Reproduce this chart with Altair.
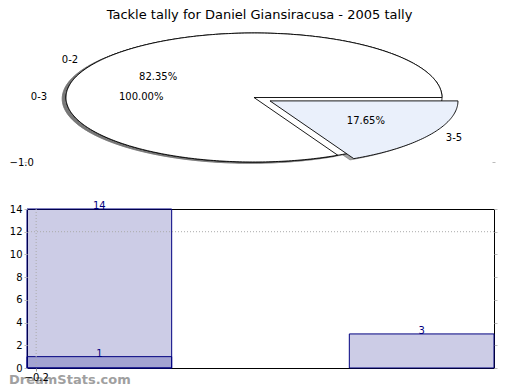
import altair as alt
import numpy as np
import pandas as pd

TITLE = "Tackle tally for Daniel Giansiracusa - 2005 tally"

# ---- pie data (two pies drawn on the same axes) ----
pieA_labels = ["0-2", "3-5"]
pieA_counts = [14, 3]
pieA_explode = [0.0, 0.1]
pieA_colors = ["#ffffff", "#eaf0fb"]

pieB_labels = ["0-3"]
pieB_counts = [1]
pieB_explode = [0.0]
pieB_colors = ["#ffffff"]

pie_yticks = [-1.0]

# ---- bar data ----
bar_values = [14, 1, 3]
bar_left = [-0.25, -0.25, 1.51]
bar_right = [0.54, 0.54, 2.30]
bar_yticks = [0, 2, 4, 6, 8, 10, 12, 14]
bar_xticks = [-0.2]
grid_y = [12]
grid_x = [-0.2]
WATERMARK = "DreamStats.com"


def pie_geometry(pid, labels, counts, explode, colors):
    total = float(sum(counts))
    start = 0.0
    shapes, texts = [], []
    for i, (lab, c, e, col) in enumerate(zip(labels, counts, explode, colors)):
        frac = c / total
        t1, t2 = 360.0 * start, 360.0 * (start + frac)
        mid = np.deg2rad((t1 + t2) / 2.0)
        cx, cy = e * np.cos(mid), e * np.sin(mid)
        ang = np.deg2rad(np.linspace(t1, t2, int(abs(t2 - t1)) + 2))
        xs = list(cx + np.cos(ang))
        ys = list(cy + np.sin(ang))
        if frac < 1.0:
            xs = [cx] + xs + [cx]
            ys = [cy] + ys + [cy]
        sid = f"{pid}{i}"
        for k, (x, y) in enumerate(zip(xs, ys)):
            shapes.append({"sid": sid, "k": k, "x": x, "y": y, "fill": col})
        lx, ly = cx + 1.1 * np.cos(mid), cy + 1.1 * np.sin(mid)
        texts.append({"x": lx, "y": ly, "t": lab, "ha": "left" if lx > 0 else "right"})
        px, py = cx + 0.6 * np.cos(mid), cy + 0.6 * np.sin(mid)
        texts.append({"x": px, "y": py, "t": f"{100 * frac:.2f}%", "ha": "center"})
        start += frac
    return shapes, texts


sB, tB = pie_geometry("1B", pieB_labels, pieB_counts, pieB_explode, pieB_colors)
sA, tA = pie_geometry("2A", pieA_labels, pieA_counts, pieA_explode, pieA_colors)
wedges = pd.DataFrame(sB + sA)
shadow = wedges.copy()
shadow["x"] = shadow["x"] - 0.02
shadow["y"] = shadow["y"] - 0.02
pie_text = pd.DataFrame(tB + tA)

FONT = "DejaVu Sans"
W_TOP, H_TOP = 465, 143
W_BOT, H_BOT = 467, 159

xs_top = alt.Scale(domain=[-1.2074, 1.266], nice=False, zero=False)
ys_top = alt.Scale(domain=[-1.093, 1.124], nice=False, zero=False)

shadow_layer = alt.Chart(shadow).mark_line(
    fill="#4c4c4c", fillOpacity=0.5, stroke="#7a7a7a", strokeWidth=1, strokeOpacity=0.6
).encode(
    x=alt.X("x:Q", scale=xs_top, axis=None),
    y=alt.Y("y:Q", scale=ys_top, axis=alt.Axis(
        values=pie_yticks, format=".1f", orient="left", domain=False, grid=False,
        ticks=True, tickColor="#bbbbbb", tickSize=3, tickWidth=1,
        labelAlign="left", labelPadding=15, labelFontSize=10, labelColor="black",
        labelFont=FONT, title=None)),
    detail="sid:N",
    order="k:Q",
)

wedge_layer = alt.Chart(wedges).mark_line(stroke="black", strokeWidth=0.9).encode(
    x=alt.X("x:Q", scale=xs_top, axis=None),
    y=alt.Y("y:Q", scale=ys_top, axis=alt.Axis(
        values=pie_yticks, orient="right", domain=False, grid=False, labels=False,
        ticks=True, tickColor="#bbbbbb", tickSize=3, tickWidth=1, title=None)),
    fill=alt.Fill("fill:N", scale=None),
    detail="sid:N",
    order="k:Q",
)


def pie_text_layer(ha):
    return alt.Chart(pie_text).transform_filter(
        alt.datum.ha == ha
    ).mark_text(align=ha, baseline="middle", fontSize=10, font=FONT, color="black").encode(
        x=alt.X("x:Q", scale=xs_top, axis=None),
        y=alt.Y("y:Q", scale=ys_top, axis=None),
        text="t:N",
    )


top = alt.layer(
    shadow_layer, wedge_layer,
    pie_text_layer("left"), pie_text_layer("right"), pie_text_layer("center"),
).resolve_axis(y="independent").properties(
    width=W_TOP, height=H_TOP,
    title=alt.Title(TITLE, fontSize=13, fontWeight="normal", font=FONT, anchor="middle", offset=3, color="black"),
    view=alt.ViewBackground(stroke="transparent"),
)

# ---- bottom bar chart ----
bar_df = pd.DataFrame({
    "v": bar_values, "x0": bar_left, "x1": bar_right,
})
bar_df["xc"] = (bar_df["x0"] + bar_df["x1"]) / 2
bar_df["lab"] = bar_df["v"].astype(str)
bar_df["base"] = 0

xs_bot = alt.Scale(domain=[-0.25, 2.30], nice=False, zero=False)
ys_bot = alt.Scale(domain=[0, 14], nice=False, zero=False)

bars = alt.Chart(bar_df).mark_bar(
    fill="navy", fillOpacity=0.2, stroke="navy", strokeWidth=1
).encode(
    x=alt.X("x0:Q", scale=xs_bot, axis=alt.Axis(
        values=bar_xticks, format=".1f", domain=False, grid=False, tickColor="#999999",
        tickSize=3, labelFontSize=10, labelColor="black", labelFont=FONT, labelPadding=1,
        title=None, zindex=2)),
    x2="x1:Q",
    y=alt.Y("v:Q", scale=ys_bot, axis=alt.Axis(
        values=bar_yticks, format="d", domain=False, grid=False, tickColor="#bbbbbb",
        tickSize=3, labelFontSize=10, labelColor="black", labelFont=FONT, labelPadding=2,
        title=None, zindex=2)),
    y2="base:Q",
)

gridh = alt.Chart(pd.DataFrame({"g": grid_y})).mark_rule(
    color="#aaaaaa", strokeDash=[1, 2], strokeWidth=1
).encode(y=alt.Y("g:Q", scale=ys_bot, axis=None))
gridv = alt.Chart(pd.DataFrame({"g": grid_x})).mark_rule(
    color="#aaaaaa", strokeDash=[1, 2], strokeWidth=1
).encode(x=alt.X("g:Q", scale=xs_bot, axis=None))

bar_labels = alt.Chart(bar_df).mark_text(
    color="navy", fontSize=10, font=FONT, baseline="alphabetic", align="center"
).encode(
    x=alt.X("xc:Q", scale=xs_bot, axis=None),
    y=alt.Y("v:Q", scale=ys_bot, axis=alt.Axis(
        values=bar_yticks, orient="right", domain=False, grid=False, labels=False,
        tickColor="#bbbbbb", tickSize=3, title=None)),
    text="lab:N",
)

watermark = alt.Chart(pd.DataFrame({"t": [WATERMARK]})).mark_text(
    align="left", baseline="alphabetic", fontSize=13, fontWeight="bold", font=FONT, color="#a0a0a0"
).encode(x=alt.value(-18), y=alt.value(H_BOT + 16), text="t:N")

bottom = alt.layer(bars, gridh, gridv, bar_labels, watermark).resolve_axis(
    y="independent", x="independent"
).properties(
    width=W_BOT, height=H_BOT,
    view=alt.ViewBackground(stroke="black", strokeWidth=1),
)

chart = alt.vconcat(top, bottom, spacing=41, bounds="flush").properties(padding=0).configure(
    font=FONT
)

chart.save("out.html", embed_options={"renderer": "svg", "actions": False})
